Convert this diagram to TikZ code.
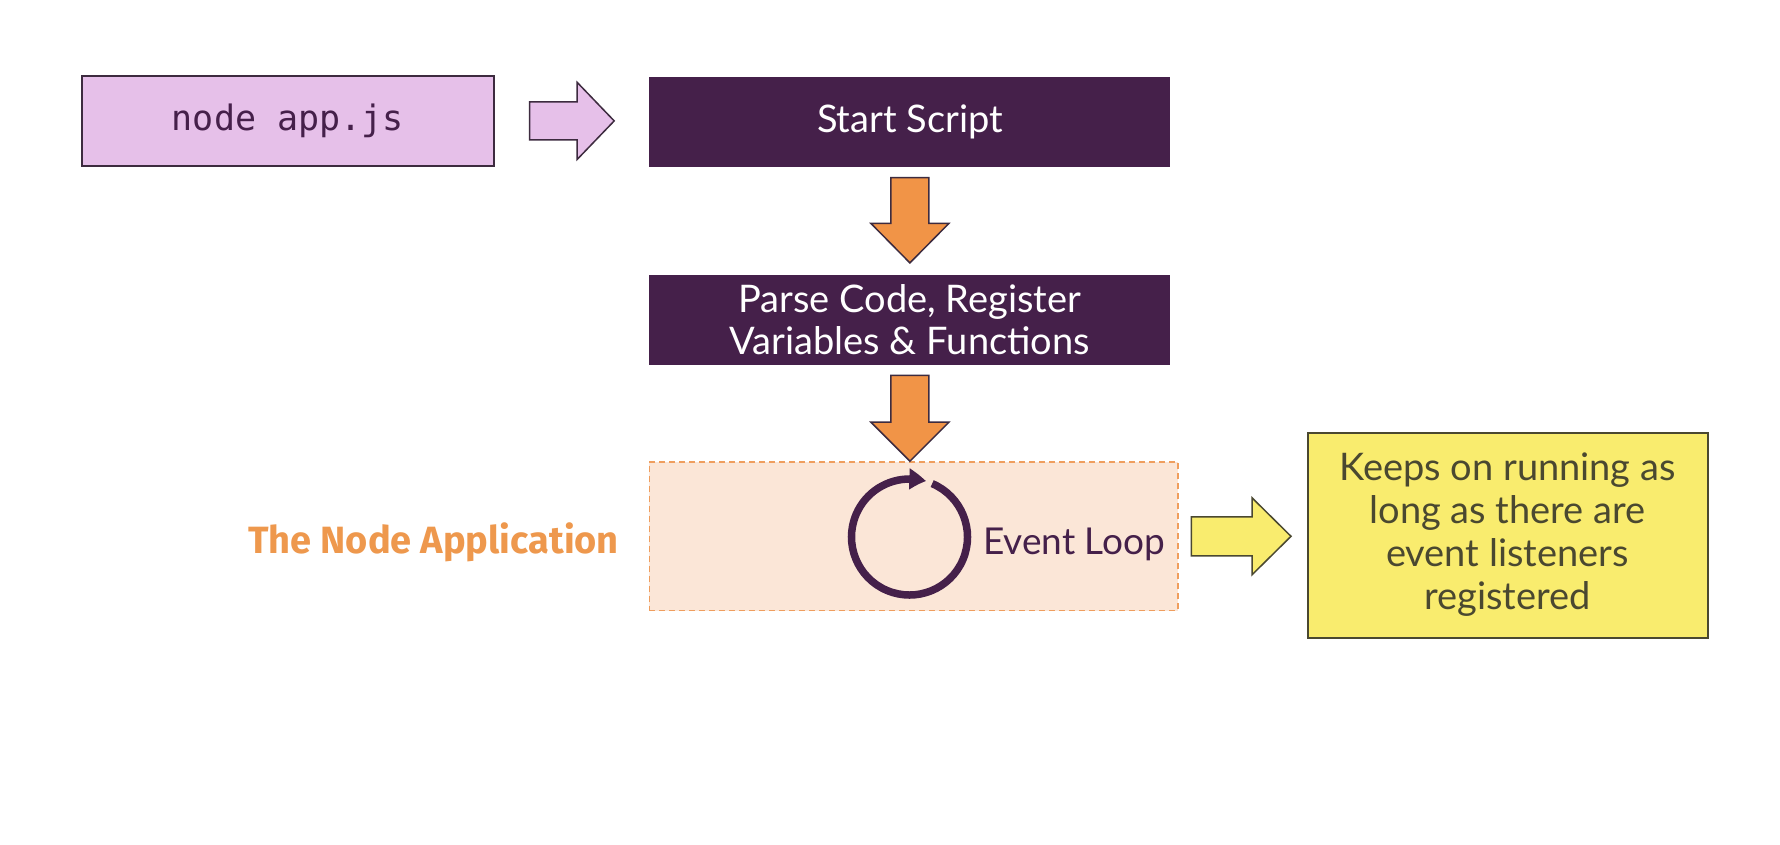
\documentclass[tikz,border=0pt]{standalone}
\usepackage{fontspec}
\setmainfont{Lato}
\newfontfamily\titlefont{Fira Sans}
\newfontfamily\codefont{DejaVu Sans Mono}
\usetikzlibrary{calc,arrows.meta,bending}
\definecolor{plum}{HTML}{45204A}
\definecolor{lilac}{HTML}{E6C0E9}
\definecolor{pumpkin}{HTML}{F19447}
\definecolor{peach}{HTML}{FBE6D7}
\definecolor{peachline}{HTML}{EF9E5E}
\definecolor{lemon}{HTML}{F9EC6E}
\definecolor{olive}{HTML}{4A4830}
\definecolor{titleorange}{HTML}{EE984D}
\definecolor{edge}{HTML}{3D2B3F}
% horizontal block arrow: from, to, gap from, gap to, shaft half, head half, head length, style
\newcommand\blockR[8]{%
  \draw[#8] let \p1=($(#1)+(#3,0)$), \p2=($(#2)-(#4,0)$) in
    (\x1,\y1+#5pt) -- (\x2-#7pt,\y1+#5pt) -- (\x2-#7pt,\y1+#6pt) -- (\x2,\y1)
    -- (\x2-#7pt,\y1-#6pt) -- (\x2-#7pt,\y1-#5pt) -- (\x1,\y1-#5pt) -- cycle;}
% vertical (downward) block arrow
\newcommand\blockD[8]{%
  \draw[#8] let \p1=($(#1)+(0,#3)$), \p2=($(#2)-(0,#4)$) in
    (\x1-#5pt,\y1) -- (\x1-#5pt,\y2+#7pt) -- (\x1-#6pt,\y2+#7pt) -- (\x1,\y2)
    -- (\x1+#6pt,\y2+#7pt) -- (\x1+#5pt,\y2+#7pt) -- (\x1+#5pt,\y1) -- cycle;}
\begin{document}
\begin{tikzpicture}[x=1pt,y=-1pt,
  codebox/.style={draw=edge, line width=1.5pt, fill=lilac, minimum width=412pt,
    minimum height=90pt, inner sep=0pt, text=plum,
    font=\codefont\fontsize{35}{40}\selectfont},
  stepbox/.style={fill=plum, minimum width=521pt, minimum height=90pt, inner sep=0pt,
    text=white, align=center, font=\fontsize{38}{42}\selectfont},
  loopbox/.style={fill=peach, draw=peachline, dash pattern=on 6pt off 4pt,
    line width=1.5pt, minimum width=528.7pt, minimum height=148.7pt, inner sep=0pt},
  notebox/.style={fill=lemon, draw=olive, line width=2pt, minimum width=400pt,
    minimum height=205pt, inner sep=0pt, align=center, text=olive,
    font=\fontsize{38}{43}\selectfont},
  looptext/.style={text=plum, inner sep=0pt, font=\fontsize{37}{42}\selectfont},
  titletext/.style={text=titleorange, inner sep=0pt,
    font=\titlefont\bfseries\fontsize{38}{42}\selectfont},
  pinkarrow/.style={fill=lilac, draw=edge, line width=1.5pt, line join=miter},
  orangearrow/.style={fill=pumpkin, draw=edge, line width=1.5pt, line join=miter},
  yellowarrow/.style={fill=lemon, draw=olive, line width=1.5pt, line join=miter}]
\fill[white] (0,0) rectangle (1780,844);
\useasboundingbox (0,0) rectangle (1780,844);

\node[codebox] (app) at (287.8,120.9) {node app.js};
\node[stepbox] (start) at (909.9,121.5) {Start Script};
\node[stepbox] (parse) at (909.9,320.1) {Parse Code, Register\\Variables \& Functions};
\node[loopbox] (nodeapp) at (913.7,536.3) {};
\node[notebox] (note) at (1507.5,535) {Keeps on running as\\long as there are\\event listeners\\registered};
\node[looptext, anchor=base west] (loop) at (983,554) {Event Loop};
\node[titletext, anchor=base east] (title) at (619,553) {The Node Application};

\coordinate (loopc) at (909.5,537);
\draw[plum, line width=7.5pt, -{Triangle[length=17pt,width=20pt,bend]}]
  (loopc) ++(-67:58) arc[start angle=-67, end angle=286.5, radius=58];

\blockR{app.east}{start.west}{35}{35}{19}{38.5}{37}{pinkarrow}
\blockD{start.south}{parse.north}{11}{12}{19}{39}{39.5}{orangearrow}
\blockD{parse.south}{nodeapp.north}{10}{0}{19}{39}{39}{orangearrow}
\blockR{nodeapp.east}{note.west}{12.5}{15.5}{19.5}{38.5}{39}{yellowarrow}
\end{tikzpicture}
\end{document}
